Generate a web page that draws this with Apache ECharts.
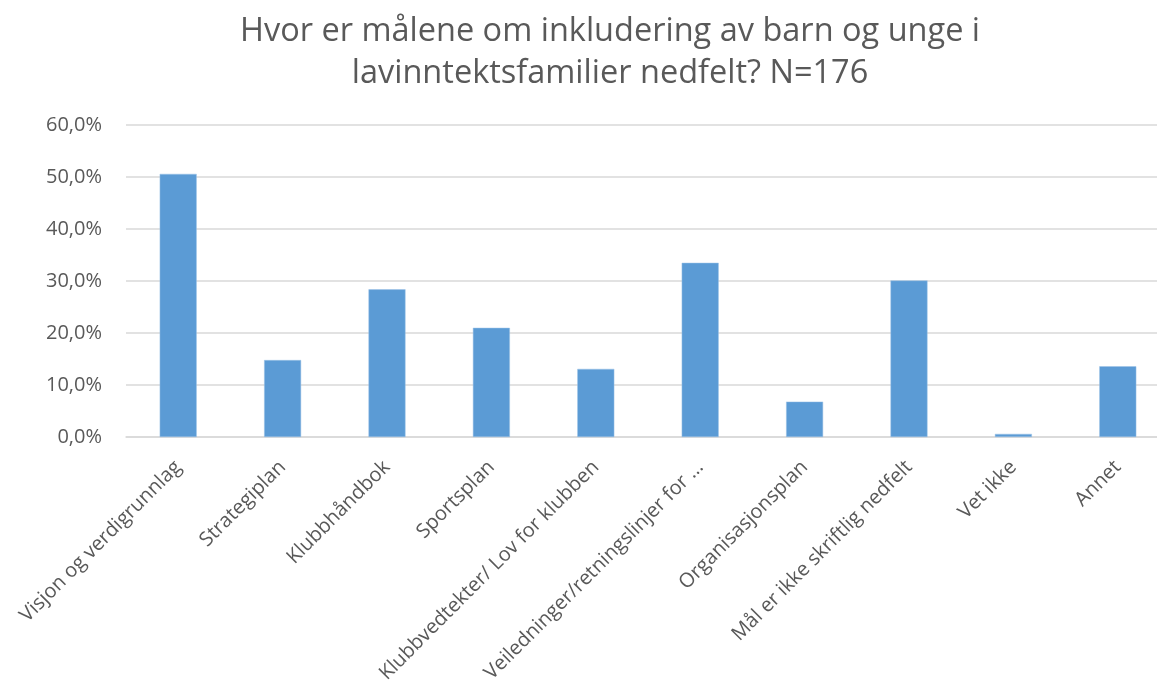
<!DOCTYPE html>
<html><head><meta charset="utf-8">
<script src="https://cdn.jsdelivr.net/npm/echarts@6/dist/echarts.min.js"></script>
<style>html,body{margin:0;padding:0;background:#fff}#c{width:1157px;height:688px}</style>
</head><body><div id="c"></div>
<script>
const categories = ["Visjon og verdigrunnlag","Strategiplan","Klubbhåndbok","Sportsplan","Klubbvedtekter/ Lov for klubben","Veiledninger/retningslinjer for …","Organisasjonsplan","Mål er ikke skriftlig nedfelt","Vet ikke","Annet"];
const values = [50.6, 14.8, 28.4, 21.0, 13.1, 33.5, 6.8, 30.1, 0.6, 13.6];
const titleText = "Hvor er målene om inkludering av barn og unge i\nlavinntektsfamilier nedfelt? N=176";
const FONT = "'Open Sans', 'Noto Sans', sans-serif";
const chart = echarts.init(document.getElementById('c'));
chart.setOption({
  animation: false,
  backgroundColor: '#fff',
  title: {
    text: titleText, left: 605, textAlign: 'center', top: 6,
    textStyle: { fontFamily: FONT, fontSize: 32.5, fontWeight: 'normal', color: '#595959', lineHeight: 42 }
  },
  grid: { left: 126, top: 125, width: 1044, height: 312, containLabel: false, outerBoundsMode: 'none' },
  xAxis: {
    type: 'category', data: categories,
    axisLine: { lineStyle: { color: '#D9D9D9', width: 1.5 } },
    axisTick: { show: false },
    axisLabel: { interval: 0, rotate: 45, fontFamily: FONT, fontSize: 20, color: '#595959', margin: 27 }
  },
  yAxis: {
    type: 'value', min: 0, max: 60, interval: 10,
    axisLine: { show: false }, axisTick: { show: false },
    splitLine: { lineStyle: { color: '#D9D9D9', width: 1.5 } },
    axisLabel: { fontFamily: FONT, fontSize: 20, color: '#595959', margin: 24,
      formatter: v => v.toFixed(1).replace('.', ',') + '%' }
  },
  series: [{
    type: 'bar', data: values, barWidth: 37,
    itemStyle: { color: '#5B9BD5', borderColor: '#9DC3E6', borderWidth: 0.5 }
  }]
});
</script></body></html>
